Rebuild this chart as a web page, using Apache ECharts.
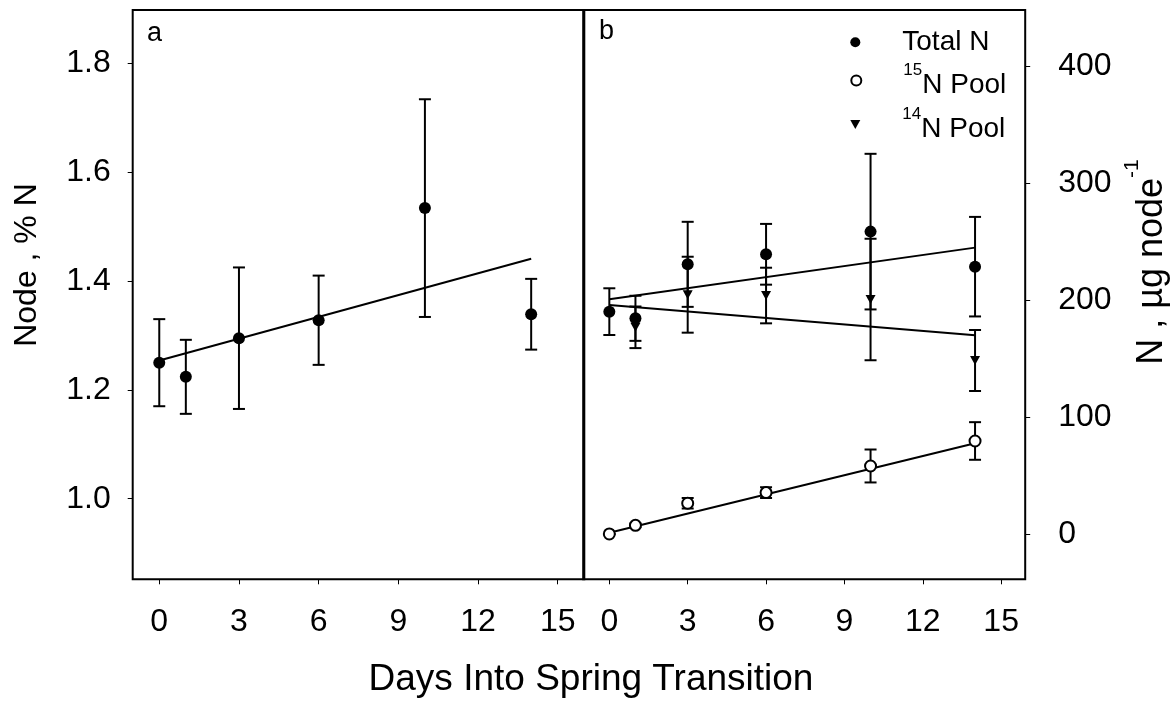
<!DOCTYPE html>
<html>
<head>
<meta charset="utf-8">
<script src="https://cdn.jsdelivr.net/npm/echarts@6/dist/echarts.min.js"></script>
<style>
html,body{margin:0;padding:0;background:#fff;}
#chart{width:1173px;height:702px;}
</style>
</head>
<body>
<div id="chart"></div>
<script>
// ---- data ----
const days = [0, 1, 3, 6, 10, 14];
const xTicks = [0, 3, 6, 9, 12, 15];
const leftYTicks = [1.0, 1.2, 1.4, 1.6, 1.8];
const rightYTicks = [0, 100, 200, 300, 400];

// panel a : Node, % N
const pctN = [1.250, 1.224, 1.295, 1.328, 1.534, 1.339];
const pctNErr = [0.080, 0.068, 0.130, 0.082, 0.200, 0.065];
const fitA = [[0, 1.254], [14, 1.441]];

// panel b : N, ug node-1
const totalN = [190.3, 184.6, 230.8, 239.4, 258.8, 228.8];
const totalNErr = [20.0, 19.3, 36.4, 26.0, 66.6, 42.6];
const n15 = [0.0, 7.4, 26.3, 35.4, 58.2, 79.6];
const n15Err = [0.0, 1.5, 4.5, 4.6, 14.1, 16.1];
const n14 = [null, 176.9, 204.8, 204.1, 200.7, 148.5];
const n14Err = [null, 17.8, 32.5, 23.8, 52.0, 26.1];
const fitTotal = [[0, 200.9], [14, 245.1]];
const fit14 = [[0, 196.0], [14, 170.1]];
const fit15 = [[0, 1.1], [14, 77.6]];

const FF = "'Liberation Sans', Arial, sans-serif";

function pts(xs, ys) {
  const out = [];
  xs.forEach((x, i) => { if (ys[i] !== null) out.push([x, ys[i]]); });
  return out;
}
function errData(xs, ys, es) {
  const out = [];
  xs.forEach((x, i) => { if (ys[i] !== null && es[i] !== null) out.push([x, ys[i] - es[i], ys[i] + es[i]]); });
  return out;
}
function errorBars(xi, yi, data) {
  return {
    type: 'custom', xAxisIndex: xi, yAxisIndex: yi, data: data, z: 2, silent: true,
    encode: { x: 0, y: [1, 2] },
    renderItem: function (params, api) {
      const x = api.value(0);
      const lo = api.coord([x, api.value(1)]);
      const hi = api.coord([x, api.value(2)]);
      const hw = 6;
      const st = { stroke: '#000', lineWidth: 2 };
      return { type: 'group', children: [
        { type: 'line', shape: { x1: lo[0], y1: lo[1], x2: hi[0], y2: hi[1] }, style: st },
        { type: 'line', shape: { x1: lo[0] - hw, y1: lo[1], x2: lo[0] + hw, y2: lo[1] }, style: st },
        { type: 'line', shape: { x1: hi[0] - hw, y1: hi[1], x2: hi[0] + hw, y2: hi[1] }, style: st }
      ]};
    }
  };
}
function fitLine(xi, yi, data) {
  return { type: 'line', xAxisIndex: xi, yAxisIndex: yi, data: data, showSymbol: false, symbol: 'none',
    lineStyle: { color: '#000', width: 2 }, z: 3, silent: true };
}
const triPath = 'path://M0,0L10,0L5,9Z';

const tickLabel = { fontFamily: FF, fontSize: 32, color: '#000' };
const tickStyle = { color: '#000', width: 1 };
function xAxisCfg(gi, max) {
  return { type: 'value', gridIndex: gi, min: -1, max: max,
    axisLine: { show: false, onZero: false }, splitLine: { show: false },
    axisTick: { show: true, length: 5, lineStyle: tickStyle, customValues: xTicks },
    axisLabel: Object.assign({ margin: 27, customValues: xTicks }, tickLabel) };
}

const chart = echarts.init(document.getElementById('chart'), null, { renderer: 'canvas' });
const legendRich = {
  m: { fontFamily: FF, fontSize: 28, color: '#000' },
  s: { fontFamily: FF, fontSize: 17, verticalAlign: 'top', color: '#000' },
  n: { fontFamily: FF, fontSize: 28, padding: [10, 0, 0, 0], verticalAlign: 'bottom', color: '#000' }
};
const legendBase = { orient: 'vertical', padding: 0, itemWidth: 84, selectedMode: false,
  textStyle: { fontFamily: FF, fontSize: 28, color: '#000', rich: legendRich } };

chart.setOption({
  animation: false,
  backgroundColor: '#fff',
  grid: [
    { left: 132.7, top: 10, width: 451.6, height: 569.3, show: true, borderColor: '#000', borderWidth: 2, backgroundColor: 'transparent' },
    { left: 583.2, top: 10, width: 442, height: 569.3, show: true, borderColor: '#000', borderWidth: 2, backgroundColor: 'transparent' }
  ],
  xAxis: [ xAxisCfg(0, 16), xAxisCfg(1, 15.92) ],
  yAxis: [
    { type: 'value', gridIndex: 0, position: 'left', min: 0.852, max: 1.898,
      axisLine: { show: false, onZero: false }, splitLine: { show: false },
      axisTick: { show: true, length: 5, lineStyle: tickStyle, customValues: leftYTicks },
      axisLabel: Object.assign({ margin: 22, customValues: leftYTicks, formatter: v => v.toFixed(1) }, tickLabel) },
    { type: 'value', gridIndex: 1, position: 'right', min: -38.8, max: 448.5,
      axisLine: { show: false, onZero: false }, splitLine: { show: false },
      axisTick: { show: true, length: 5, lineStyle: tickStyle, customValues: rightYTicks },
      axisLabel: Object.assign({ margin: 33, customValues: rightYTicks }, tickLabel) }
  ],
  legend: [
    Object.assign({}, legendBase, { left: 850.3, top: 28.2, itemHeight: 10, data: ['Total N'], formatter: () => '{m|Total N}' }),
    Object.assign({}, legendBase, { left: 850.3, top: 61.5, itemHeight: 10, data: ['15N Pool'], formatter: () => '{s|15}{n|N Pool}' }),
    Object.assign({}, legendBase, { left: 850.3, top: 105.5, itemHeight: 9, data: ['14N Pool'], formatter: () => '{s|14}{n|N Pool}' })
  ],
  series: [
    // panel a
    errorBars(0, 0, errData(days, pctN, pctNErr)),
    fitLine(0, 0, fitA),
    { name: 'Node %N', type: 'scatter', xAxisIndex: 0, yAxisIndex: 0, data: pts(days, pctN),
      symbol: 'circle', symbolSize: 12, itemStyle: { color: '#000', opacity: 1 }, z: 4, silent: true },
    // panel b
    errorBars(1, 1, errData(days, totalN, totalNErr)),
    errorBars(1, 1, errData(days, n14, n14Err)),
    errorBars(1, 1, errData(days, n15, n15Err)),
    fitLine(1, 1, fitTotal),
    fitLine(1, 1, fit14),
    fitLine(1, 1, fit15),
    { name: 'Total N', type: 'scatter', xAxisIndex: 1, yAxisIndex: 1, data: pts(days, totalN),
      symbol: 'circle', symbolSize: 12, itemStyle: { color: '#000', opacity: 1 }, z: 4, silent: true },
    { name: '14N Pool', type: 'scatter', xAxisIndex: 1, yAxisIndex: 1, data: pts(days, n14),
      symbol: triPath, symbolSize: [10, 9], itemStyle: { color: '#000', opacity: 1 }, z: 4, silent: true },
    { name: '15N Pool', type: 'scatter', xAxisIndex: 1, yAxisIndex: 1, data: pts(days, n15),
      symbol: 'emptyCircle', symbolSize: 11, itemStyle: { color: '#000', borderWidth: 2, opacity: 1 }, z: 5, silent: true }
  ],
  graphic: [
    { type: 'text', left: 147, top: 20, silent: true,
      style: { text: 'a', fontFamily: FF, fontSize: 27, fill: '#000' } },
    { type: 'text', left: 599, top: 18, silent: true,
      style: { text: 'b', fontFamily: FF, fontSize: 27, fill: '#000' } },
    { type: 'text', x: 591, y: 680, silent: true,
      style: { text: 'Days Into Spring Transition', fontFamily: FF, fontSize: 37, fill: '#000', align: 'center', verticalAlign: 'middle' } },
    { type: 'text', x: 27, y: 265, rotation: Math.PI / 2, silent: true,
      style: { text: 'Node , % N', fontFamily: FF, fontSize: 32, fill: '#000', align: 'center', verticalAlign: 'middle' } },
    { type: 'text', x: 1146, y: 262, rotation: Math.PI / 2, silent: true,
      style: { text: '{m|N , µg node}{s|-1}', align: 'center', verticalAlign: 'middle',
        rich: {
          m: { fontFamily: FF, fontSize: 36, padding: [12, 0, 0, 0], verticalAlign: 'bottom', fill: '#000' },
          s: { fontFamily: FF, fontSize: 21, verticalAlign: 'top', fill: '#000' }
        } } }
  ]
});
</script>
</body>
</html>
